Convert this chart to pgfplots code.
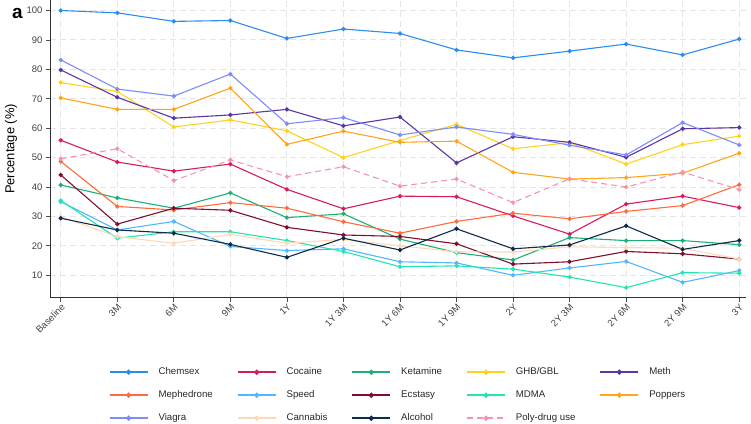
\documentclass[border=0pt]{standalone}
\usepackage{fontspec}
\setmainfont{Liberation Sans}
\usepackage{pgfplots}
\usepackage{pgfplotstable}
\pgfplotsset{compat=1.18}

\definecolor{cChemsex}{HTML}{2B8CF0}
\definecolor{cCocaine}{HTML}{D81B60}
\definecolor{cKetamine}{HTML}{1DB074}
\definecolor{cGHB}{HTML}{FFD21F}
\definecolor{cMeth}{HTML}{5B36A6}
\definecolor{cMephedrone}{HTML}{FF6B3D}
\definecolor{cSpeed}{HTML}{52B7FF}
\definecolor{cEcstasy}{HTML}{800E2E}
\definecolor{cMDMA}{HTML}{22E6B0}
\definecolor{cPoppers}{HTML}{FFA41B}
\definecolor{cViagra}{HTML}{7C8CFA}
\definecolor{cCannabis}{HTML}{FFD9B5}
\definecolor{cAlcohol}{HTML}{0E2A4F}
\definecolor{cPoly}{HTML}{F592B5}

% percentages per follow-up time point (0 = Baseline ... 12 = 3Y)
\pgfplotstableread{
x  chemsex cocaine ketamine ghb  meth mephedrone speed ecstasy mdma poppers viagra cannabis alcohol poly
0  100.0   55.9    40.7     75.5 79.8 48.7       35.0  44.1    35.4 70.3    83.2   29.9     29.4    49.6
1  99.2    48.5    36.3     72.5 70.5 33.4       25.4  27.4    22.6 66.4    73.3   23.1     25.4    53.0
2  96.3    45.4    32.8     60.4 63.4 32.2       28.3  32.8    24.8 66.4    70.9   20.9     24.3    42.2
3  96.6    47.8    38.0     62.8 64.5 34.7       19.8  32.1    24.8 73.6    78.4   23.9     20.5    49.2
4  90.5    39.2    29.6     59.1 66.4 32.8       18.4  26.3    21.8 54.5    61.5   20.9     16.1    43.5
5  93.7    32.6    30.9     50.0 60.8 28.2       19.0  23.7    18.1 59.0    63.6   22.2     22.6    46.9
6  92.2    36.9    22.3     55.8 63.8 24.3       14.6  23.2    12.9 55.2    57.7   20.0     18.6    40.3
7  86.6    36.7    17.7     61.3 48.2 28.3       14.2  20.7    13.2 55.6    60.4   18.0     25.8    42.7
8  83.9    30.2    15.2     53.0 57.1 31.1       10.0  13.8    12.1 45.0    57.9   17.9     19.0    34.7
9  86.2    24.0    22.8     55.1 55.2 29.2       12.5  14.6     9.4 42.7    54.2   19.7     20.3    42.8
10 88.6    34.2    21.8     47.8 50.1 31.7       14.7  18.1     5.8 43.2    50.9   19.4     26.8    40.0
11 84.9    36.9    21.8     54.4 59.8 33.7        7.6  17.3    10.9 44.7    61.9   19.2     18.8    45.1
12 90.3    33.0    20.4     57.3 60.2 40.8       11.6  15.5    10.7 51.5    54.3   15.5     21.8    39.1
}\drugs

\begin{document}
\begin{tikzpicture}
\useasboundingbox (0,0) rectangle (751bp,424bp);
\begin{axis}[
    at={(50bp,126.5bp)}, anchor=south west,
    scale only axis, width=696bp, height=297bp,
    xmin=-0.19, xmax=12.12, ymin=2.45, ymax=103.4,
    axis lines=left,
    axis line style={-, draw=black!80, line width=0.8bp},
    xtick={0,...,12},
    xticklabels={Baseline,3M,6M,9M,1Y,1Y 3M,1Y 6M,1Y 9M,2Y,2Y 3M,2Y 6M,2Y 9M,3Y},
    ytick={10,20,...,100},
    tick align=outside, major tick length=4bp,
    tick style={black!70, line width=0.8bp},
    grid=major,
    major grid style={dash pattern=on 6bp off 4bp, draw=black!10, line width=0.9bp},
    /pgf/number format/assume math mode=true,
    yticklabel style={font=\fontsize{9.5}{10}\selectfont, text=black!75},
    xticklabel style={font=\fontsize{9.5}{10}\selectfont, text=black!75,
        rotate=45, anchor=north east, inner sep=1bp},
    ylabel={Percentage (\%)},
    ylabel style={at={(axis description cs:-0.056,0.5)}, anchor=center,
        font=\fontsize{13}{15}\selectfont},
    every axis plot/.append style={line width=1.1bp, mark=*, mark size=1.6bp},
    legend columns=5,
    legend cell align=left,
    legend image code/.code={\draw[mark repeat=2, mark phase=2, #1, line width=1.8bp]
        plot coordinates {(0bp,0bp) (19bp,0bp) (38bp,0bp)};},
    legend style={at={(0.5,-0.229)}, anchor=north, draw=none, fill=none,
        inner sep=0pt, row sep=10bp,
        font=\fontsize{9.7}{11}\selectfont,
        nodes={inner sep=2bp, text height=7bp, text depth=2bp, text=black!85},
        /tikz/every odd column/.append style={column sep=8bp},
        /tikz/every even column/.append style={column sep=22bp}},
]
\addplot[cChemsex] table[x=x, y=chemsex] {\drugs};
\addplot[cCocaine] table[x=x, y=cocaine] {\drugs};
\addplot[cKetamine] table[x=x, y=ketamine] {\drugs};
\addplot[cGHB] table[x=x, y=ghb] {\drugs};
\addplot[cMeth] table[x=x, y=meth] {\drugs};
\addplot[cMephedrone] table[x=x, y=mephedrone] {\drugs};
\addplot[cSpeed] table[x=x, y=speed] {\drugs};
\addplot[cEcstasy] table[x=x, y=ecstasy] {\drugs};
\addplot[cMDMA] table[x=x, y=mdma] {\drugs};
\addplot[cPoppers] table[x=x, y=poppers] {\drugs};
\addplot[cViagra] table[x=x, y=viagra] {\drugs};
\addplot[cCannabis] table[x=x, y=cannabis] {\drugs};
\addplot[cAlcohol] table[x=x, y=alcohol] {\drugs};
\addplot[cPoly, dash pattern=on 6bp off 4bp, mark options={solid}] table[x=x, y=poly] {\drugs};
\legend{Chemsex,Cocaine,Ketamine,GHB/GBL,Meth,Mephedrone,Speed,Ecstasy,MDMA,Poppers,Viagra,Cannabis,Alcohol,Poly-drug use}
\end{axis}
\node[font=\bfseries\fontsize{19}{21}\selectfont] at (17.5bp,410.5bp) {a};
\end{tikzpicture}
\end{document}
